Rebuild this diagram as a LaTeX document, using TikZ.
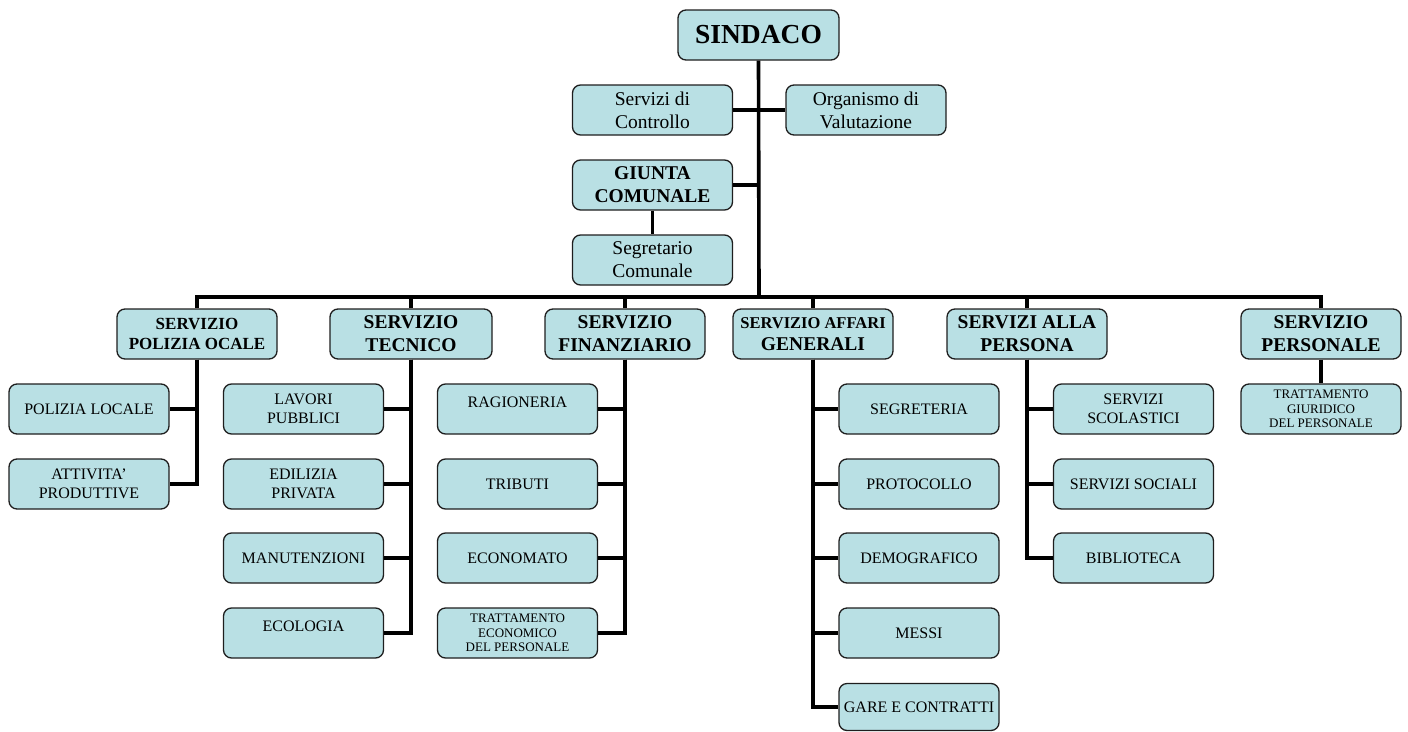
\documentclass[tikz,border=0pt]{standalone}
\usepackage{fontspec}
\setmainfont{Liberation Serif}
\definecolor{boxfill}{RGB}{185,224,228}
\definecolor{boxline}{RGB}{30,30,30}
\begin{document}
\begin{tikzpicture}[x=1pt,y=-1pt,
  box/.style={draw=boxline,line width=1.3pt,fill=boxfill,rounded corners=8pt,
    minimum width=160pt,minimum height=50pt,inner sep=0pt,align=center,text=black},
  fnormal/.style={font=\fontsize{16}{18.5}\selectfont},
  fsmall/.style={font=\fontsize{13}{14.5}\selectfont},
  ftop/.style={font=\fontsize{19.5}{23}\selectfont},
  fhead/.style={font=\fontsize{19.5}{23}\selectfont\bfseries},
  conn/.style={line width=3.6pt,line join=miter,line cap=butt}]
\useasboundingbox (0,0) rectangle (1408,731);
% top
\node[box,minimum width=161pt,font=\fontsize{27.5}{30}\selectfont\bfseries] (sindaco) at (758.5,35) {SINDACO};
\node[box,ftop] (controllo) at (652.5,110) {Servizi di\\Controllo};
\node[box,ftop] (organismo) at (866,110) {Organismo di\\Valutazione};
\node[box,font=\fontsize{19.5}{23}\selectfont\bfseries] (giunta) at (652.5,185) {GIUNTA\\COMUNALE};
\node[box,ftop] (segretario) at (652.5,260) {Segretario\\Comunale};
% level 2
\node[box,font=\fontsize{17}{20}\selectfont\bfseries] (polizia) at (197,334) {SERVIZIO\\POLIZIA OCALE};
\node[box,fhead,minimum width=162pt] (tecnico) at (411,334) {SERVIZIO\\TECNICO};
\node[box,fhead] (finanz) at (625,334) {SERVIZIO\\FINANZIARIO};
\node[box,font=\fontsize{19.5}{22}\selectfont\bfseries] (affari) at (813,334) {{\fontsize{16.5}{20}\selectfont SERVIZIO AFFARI}\\GENERALI};
\node[box,fhead] (persona) at (1027,334) {SERVIZI ALLA\\PERSONA};
\node[box,fhead] (personale) at (1321,334) {SERVIZIO\\PERSONALE};
% level 3 polizia
\node[box,fnormal] (pl1) at (89,409) {POLIZIA LOCALE};
\node[box,fnormal] (pl2) at (89,484) {ATTIVITA'\\PRODUTTIVE};
% tecnico
\node[box,fnormal] (te1) at (303.5,409) {LAVORI\\PUBBLICI};
\node[box,fnormal] (te2) at (303.5,484) {EDILIZIA\\PRIVATA};
\node[box,fnormal] (te3) at (303.5,558) {MANUTENZIONI};
\node[box,fnormal] (te4) at (303.5,633) {ECOLOGIA\\[-10pt]\strut};
% finanziario
\node[box,fnormal] (fi1) at (517.5,409) {RAGIONERIA\\[-10pt]\strut};
\node[box,fnormal] (fi2) at (517.5,484) {TRIBUTI};
\node[box,fnormal] (fi3) at (517.5,558) {ECONOMATO};
\node[box,fsmall] (fi4) at (517.5,633) {TRATTAMENTO\\ECONOMICO\\DEL PERSONALE};
% affari generali
\node[box,fnormal] (af1) at (919,409) {SEGRETERIA};
\node[box,fnormal] (af2) at (919,484) {PROTOCOLLO};
\node[box,fnormal] (af3) at (919,558) {DEMOGRAFICO};
\node[box,fnormal] (af4) at (919,633) {MESSI};
\node[box,fnormal,minimum height=47pt] (af5) at (919,707) {GARE E CONTRATTI};
% persona
\node[box,fnormal] (pe1) at (1133.5,409) {SERVIZI\\SCOLASTICI};
\node[box,fnormal] (pe2) at (1133.5,484) {SERVIZI SOCIALI};
\node[box,fnormal] (pe3) at (1133.5,558) {BIBLIOTECA};
% personale
\node[box,fsmall] (ps1) at (1321,409) {TRATTAMENTO\\GIURIDICO\\DEL PERSONALE};
% connectors
\coordinate (bus) at (759,297);
\draw[conn] (sindaco.south) -- (bus);
\draw[conn] (controllo.east) -- (organismo.west);
\draw[conn] (giunta.east) -- (giunta.east -| bus);
\draw[conn] (giunta.south) -- (segretario.north);
\draw[conn] (polizia.north) |- (bus) -| (personale.north);
\foreach \n in {tecnico,finanz,affari,persona}
  \draw[conn] (\n.north) -- (\n.north |- bus);
\foreach \n in {pl1,pl2} \draw[conn] (polizia.south) |- (\n.east);
\foreach \n in {te1,te2,te3,te4} \draw[conn] (tecnico.south) |- (\n.east);
\foreach \n in {fi1,fi2,fi3,fi4} \draw[conn] (finanz.south) |- (\n.east);
\foreach \n in {af1,af2,af3,af4,af5} \draw[conn] (affari.south) |- (\n.west);
\foreach \n in {pe1,pe2,pe3} \draw[conn] (persona.south) |- (\n.west);
\draw[conn] (personale.south) -- (ps1.north);
\end{tikzpicture}
\end{document}
